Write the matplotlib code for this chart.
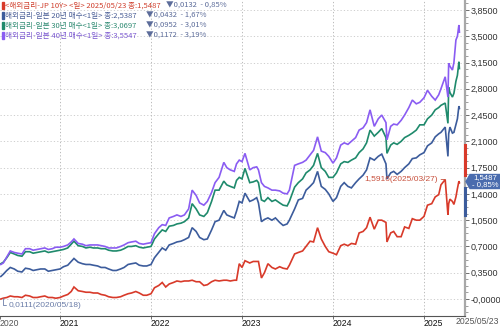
import datetime as dt
import matplotlib
matplotlib.use("Agg")
import matplotlib.pyplot as plt
from matplotlib.ticker import AutoMinorLocator, FuncFormatter
from matplotlib.patches import Polygon

plt.rcParams['font.family'] = ['Noto Sans CJK KR', 'DejaVu Sans']

dates = [
    "2020-05-08", "2020-05-18", "2020-06-01", "2020-06-15", "2020-07-01", "2020-07-15", "2020-08-01", "2020-08-15",
    "2020-09-01", "2020-09-15", "2020-10-01", "2020-10-15", "2020-11-01", "2020-11-15", "2020-12-01", "2020-12-15",
    "2021-01-01", "2021-01-15", "2021-02-01", "2021-02-15", "2021-02-26", "2021-03-15", "2021-04-01", "2021-04-15",
    "2021-05-01", "2021-05-15", "2021-06-01", "2021-06-15", "2021-07-01", "2021-07-15", "2021-08-01", "2021-08-15",
    "2021-09-01", "2021-09-15", "2021-10-01", "2021-10-15", "2021-11-01", "2021-11-15", "2021-12-01", "2021-12-15",
    "2022-01-01", "2022-01-15", "2022-02-01", "2022-02-15", "2022-03-01", "2022-03-15", "2022-04-01", "2022-04-15",
    "2022-05-01", "2022-05-15", "2022-06-01", "2022-06-15", "2022-07-01", "2022-07-15", "2022-08-01", "2022-08-15",
    "2022-09-01", "2022-09-15", "2022-10-01", "2022-10-20", "2022-11-01", "2022-11-15", "2022-12-01", "2022-12-10",
    "2022-12-21",
    "2023-01-01", "2023-01-13", "2023-02-01", "2023-02-15", "2023-03-01", "2023-03-08", "2023-03-20", "2023-04-01",
    "2023-04-15", "2023-05-01", "2023-05-15", "2023-06-01", "2023-06-15", "2023-07-01", "2023-07-10", "2023-07-31",
    "2023-08-15", "2023-09-01", "2023-09-15", "2023-10-01", "2023-10-15", "2023-10-31", "2023-11-15", "2023-12-01",
    "2023-12-15",
    "2024-01-01", "2024-01-15", "2024-02-01", "2024-02-15", "2024-03-01", "2024-03-15", "2024-04-01", "2024-04-15",
    "2024-05-01", "2024-05-15", "2024-05-29", "2024-06-15", "2024-07-01", "2024-07-15", "2024-08-01", "2024-08-05",
    "2024-08-20", "2024-09-01", "2024-09-15", "2024-10-01", "2024-10-15", "2024-11-01", "2024-11-15", "2024-12-01",
    "2024-12-15",
    "2025-01-01", "2025-01-15", "2025-02-01", "2025-02-15", "2025-03-01", "2025-03-10", "2025-03-27", "2025-04-07",
    "2025-04-10", "2025-04-15", "2025-04-25", "2025-05-01", "2025-05-09", "2025-05-15", "2025-05-21", "2025-05-23",
]

jp10 = [
    0.00, 0.011, 0.02, 0.04, 0.03, 0.03, 0.02, 0.05, 0.04, 0.02, 0.02, 0.03, 0.04, 0.02, 0.02, 0.01,
    0.02, 0.04, 0.06, 0.10, 0.16, 0.11, 0.10, 0.09, 0.09, 0.08, 0.08, 0.06, 0.05, 0.03, 0.02, 0.02,
    0.03, 0.05, 0.07, 0.08, 0.10, 0.08, 0.05, 0.05,
    0.07, 0.15, 0.18, 0.22, 0.16, 0.20, 0.22, 0.24, 0.23, 0.24, 0.24, 0.25, 0.23, 0.23, 0.18, 0.19,
    0.23, 0.25, 0.24, 0.25, 0.25, 0.24, 0.25, 0.25, 0.47,
    0.42, 0.51, 0.48, 0.50, 0.50, 0.50, 0.28, 0.35, 0.47, 0.42, 0.40, 0.43, 0.41, 0.40, 0.45, 0.60,
    0.62, 0.64, 0.70, 0.77, 0.76, 0.95, 0.80, 0.70, 0.63,
    0.61, 0.59, 0.71, 0.73, 0.71, 0.74, 0.73, 0.88, 0.90, 0.95, 1.09, 0.93, 1.05, 1.05, 1.02, 0.76,
    0.88, 0.90, 0.83, 0.83, 0.96, 0.94, 1.07, 1.05, 1.05,
    1.10, 1.25, 1.27, 1.36, 1.39, 1.52, 1.5916, 1.12, 1.27, 1.33, 1.30, 1.26, 1.36, 1.47, 1.57, 1.5487,
]

jp20 = [
    0.30, 0.33, 0.38, 0.42, 0.40, 0.37, 0.36, 0.41, 0.40, 0.38, 0.39, 0.40, 0.40, 0.37, 0.38, 0.39,
    0.40, 0.43, 0.45, 0.50, 0.54, 0.49, 0.47, 0.46, 0.46, 0.45, 0.44, 0.42, 0.42, 0.40, 0.38, 0.38,
    0.40, 0.42, 0.46, 0.47, 0.48, 0.45, 0.44, 0.44,
    0.46, 0.55, 0.62, 0.68, 0.65, 0.72, 0.74, 0.76, 0.77, 0.79, 0.82, 0.95, 0.90, 0.82, 0.79, 0.80,
    0.92, 1.03, 1.05, 1.18, 1.12, 1.10, 1.08, 1.17, 1.30,
    1.28, 1.41, 1.30, 1.32, 1.35, 1.28, 1.03, 1.06, 1.08, 1.05, 1.08, 1.02, 0.98, 1.00, 1.05, 1.20,
    1.32, 1.34, 1.45, 1.50, 1.55, 1.70, 1.50, 1.46, 1.40,
    1.30, 1.35, 1.50, 1.55, 1.50, 1.48, 1.55, 1.60, 1.65, 1.72, 1.88, 1.85, 1.90, 1.93, 1.80, 1.60,
    1.68, 1.70, 1.66, 1.70, 1.75, 1.80, 1.87, 1.88, 1.92,
    1.95, 2.04, 2.08, 2.16, 2.20, 2.22, 2.29, 1.90, 2.20, 2.29, 2.21, 2.22, 2.32, 2.40, 2.57, 2.5387,
]

jp30 = [
    0.47, 0.49, 0.55, 0.62, 0.60, 0.58, 0.57, 0.63, 0.63, 0.61, 0.62, 0.63, 0.64, 0.62, 0.63, 0.64,
    0.65, 0.66, 0.68, 0.73, 0.77, 0.71, 0.70, 0.68, 0.69, 0.68, 0.68, 0.67, 0.67, 0.65, 0.64, 0.64,
    0.65, 0.67, 0.70, 0.70, 0.71, 0.69, 0.68, 0.69,
    0.70, 0.80, 0.87, 0.92, 0.90, 0.97, 0.98, 1.00, 1.01, 1.03, 1.08, 1.27, 1.20, 1.12, 1.10, 1.15,
    1.30, 1.45, 1.45, 1.57, 1.52, 1.50, 1.48, 1.58, 1.62,
    1.60, 1.74, 1.55, 1.56, 1.58, 1.55, 1.32, 1.30, 1.35, 1.30, 1.32, 1.28, 1.25, 1.24, 1.30, 1.49,
    1.55, 1.60, 1.68, 1.72, 1.78, 1.94, 1.75, 1.70, 1.62,
    1.62, 1.68, 1.80, 1.83, 1.82, 1.85, 1.88, 1.95, 2.00, 2.08, 2.25, 2.17, 2.22, 2.27, 2.15, 1.94,
    2.05, 2.08, 2.06, 2.10, 2.15, 2.18, 2.21, 2.25, 2.32,
    2.32, 2.40, 2.45, 2.52, 2.55, 2.58, 2.61, 2.34, 2.82, 2.75, 2.69, 2.74, 2.90, 2.98, 3.16, 3.0697,
]

jp40 = [
    0.46, 0.48, 0.56, 0.64, 0.62, 0.61, 0.60, 0.67, 0.67, 0.65, 0.66, 0.67, 0.68, 0.66, 0.67, 0.69,
    0.69, 0.70, 0.72, 0.76, 0.80, 0.74, 0.73, 0.71, 0.72, 0.72, 0.72, 0.71, 0.70, 0.68, 0.68, 0.68,
    0.70, 0.72, 0.75, 0.76, 0.77, 0.74, 0.73, 0.74,
    0.75, 0.87, 0.95, 0.99, 0.98, 1.08, 1.10, 1.12, 1.10, 1.12, 1.20, 1.45, 1.38, 1.28, 1.25, 1.30,
    1.42, 1.55, 1.62, 1.82, 1.75, 1.72, 1.70, 1.80, 1.85,
    1.83, 1.94, 1.72, 1.75, 1.76, 1.72, 1.55, 1.50, 1.48, 1.45, 1.45, 1.44, 1.41, 1.40, 1.45, 1.78,
    1.80, 1.82, 1.85, 1.92, 1.98, 2.16, 1.97, 1.95, 1.90,
    1.81, 1.88, 2.05, 2.08, 2.06, 2.10, 2.15, 2.25, 2.28, 2.35, 2.52, 2.30, 2.40, 2.45, 2.35, 2.12,
    2.30, 2.33, 2.32, 2.38, 2.45, 2.55, 2.65, 2.60, 2.62,
    2.68, 2.78, 2.70, 2.65, 2.72, 2.80, 2.96, 2.69, 3.14, 3.10, 3.05, 3.15, 3.45, 3.50, 3.65, 3.5547,
]

series_names = [
    "<해외금리-JP 10Y> <일> 2025/05/23 종:1,5487",
    "해외금리-일본 20년 매수<1일> 종:2,5387",
    "해외금리-일본 30년 매수<1일> 종:3,0697",
    "해외금리-일본 40년 매수<1일> 종:3,5547",
]
series_changes = ["▼0,0132  - 0,85%", "▼0,0432  - 1,67%", "▼0,0952  - 3,01%", "▼0,1172  - 3,19%"]
year_ticks = [2021, 2022, 2023, 2024, 2025]
y_ticks = [0.0, 0.35, 0.70, 1.05, 1.40, 1.75, 2.10, 2.45, 2.80, 3.15, 3.50, 3.85]

colors = ["#d83a2a", "#3c5c9c", "#1f8a6c", "#8a5cf2"]
text_colors = ["#d0402e", "#4a5e96", "#2e8a72", "#7a58d0"]
chg_color = "#5c6c9a"
NUMFONT = "Liberation Sans"


def fyear(s):
    d = dt.date.fromisoformat(s)
    start = dt.date(d.year, 1, 1)
    n = (dt.date(d.year + 1, 1, 1) - start).days
    return d.year + (d - start).days / n


t = [fyear(s) for s in dates]

W, H = 500, 328
fig = plt.figure(figsize=(W / 100, H / 100), dpi=100)
ax_left, ax_right, ax_top, ax_bot = 0, 465, 0, 316
ax = fig.add_axes([ax_left / W, 1 - ax_bot / H, (ax_right - ax_left) / W, (ax_bot - ax_top) / H])

x0 = 2021 - 60 / 91
x1 = 2021 + (465 - 60) / 91
ax.set_xlim(x0, x1)
ax.set_ylim((299 - 316) / 75.07, 299 / 75.07)

for vals, c in zip([jp10, jp20, jp30, jp40], colors):
    ax.plot(t, vals, color=c, lw=1.2, solid_joinstyle='miter')

# grid
for yv in y_ticks:
    ax.axhline(yv, color="#c8c8c8", lw=0.6, ls=(0, (1.5, 2.5)), zorder=0)
for xv in year_ticks:
    ax.axvline(xv, color="#b0b0b0", lw=0.6, ls=(0, (1.5, 2.5)), zorder=0)

# axes styling
for s in ["top", "left"]:
    ax.spines[s].set_visible(False)
ax.spines["right"].set_color("#a8a8a8")
ax.spines["right"].set_linewidth(1.6)
ax.spines["bottom"].set_color("#555555")
ax.spines["bottom"].set_linewidth(0.8)

ax.yaxis.tick_right()
ax.set_yticks(y_ticks)


def yfmt(v, pos):
    s = f"{abs(v):.4f}".replace(".", ",")
    return ("-" + s) if abs(v) < 1e-9 else s


ax.yaxis.set_major_formatter(FuncFormatter(yfmt))
ax.yaxis.set_minor_locator(AutoMinorLocator(4))
ax.tick_params(axis="y", which="major", length=3, width=0.6, color="#555555", pad=1,
               labelsize=6.5, labelcolor="#333333")
ax.tick_params(axis="y", which="minor", length=2, width=0.5, color="#777777")
for lab in ax.get_yticklabels():
    lab.set_fontfamily(NUMFONT)

ax.set_xticks([x0] + year_ticks)
ax.set_xticklabels(["2020"] + [str(y) for y in year_ticks])
ax.tick_params(axis="x", length=2, width=0.6, color="#555555", pad=0, labelsize=6.2,
               labelcolor="#111111")
for lab in ax.get_xticklabels():
    lab.set_horizontalalignment("left")
    lab.set_fontfamily(NUMFONT)
ax.get_xticklabels()[0].set_color("#555555")

fig.text(499 / W, 1 - 322 / H, "2025/05/23", ha="right", va="center", fontsize=6.2, color="#555555",
         family=NUMFONT)


def px(x, y):
    return (x / W, 1 - y / H)


# legend text
ys = [5.5, 15.5, 25.5, 35.5]
chg_x = [166, 146, 146, 146]
for name, chg, tc, c, yy, cx in zip(series_names, series_changes, text_colors, colors, ys, chg_x):
    fig.patches.append(plt.Rectangle(px(2, yy + 3.5), 1.5 / W, 7 / H, color=c, transform=fig.transFigure))
    fig.text(*px(5, yy), name, fontsize=5.5, color=tc, va="center", ha="left")
    fig.text(*px(cx, yy), chg, fontsize=5.5, color=chg_color, va="center", ha="left")

# annotations of max / min
i_max = jp10.index(max(jp10[-10:]))
ax.annotate("1,5916(2025/03/27)", xy=(t[i_max], jp10[i_max]), xytext=(-5, 0), textcoords="offset points",
            ha="right", va="center", fontsize=6.0, color="#c8503c", family=NUMFONT,
            arrowprops=dict(arrowstyle="-", color="#c8503c", lw=0.6, shrinkA=0, shrinkB=0))
i_min = jp10.index(min(jp10[1:5]))
ax.annotate("0,0111(2020/05/18)", xy=(t[i_min], jp10[i_min]), xytext=(4, -5), textcoords="offset points",
            ha="left", va="center", fontsize=6.0, color="#6a7ca8", family=NUMFONT,
            arrowprops=dict(arrowstyle="-", color="#6a7ca8", lw=0.6, shrinkA=0, shrinkB=0,
                            connectionstyle="angle,angleA=0,angleB=90,rad=0"))

# price tag on right axis
fig.lines.append(plt.Line2D([465 / W, 465 / W], [1 - 145 / H, 1 - 175 / H], color="#d83a2a", lw=2.2,
                            transform=fig.transFigure))
fig.lines.append(plt.Line2D([465 / W, 465 / W], [1 - 188 / H, 1 - 215 / H], color="#3c5c9c", lw=2.2,
                            transform=fig.transFigure))
tag = Polygon([px(466, 181.5), px(470, 174.5), px(500, 174.5), px(500, 188.5), px(470, 188.5)],
              closed=True, color="#4a6cae", transform=fig.transFigure)
fig.patches.append(tag)
fig.text(*px(485, 178), "1,5487", fontsize=5.6, color="white", ha="center", va="center", family=NUMFONT)
fig.text(*px(485, 185), "- 0,85%", fontsize=5.6, color="white", ha="center", va="center", family=NUMFONT)

fig.savefig("out.png", dpi=100)
